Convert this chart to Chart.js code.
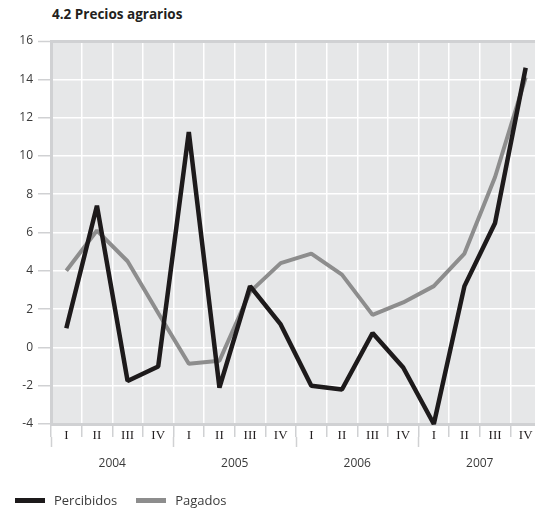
<!DOCTYPE html>
<html lang="es">
<head>
<meta charset="utf-8">
<title>4.2 Precios agrarios</title>
<script src="https://cdn.jsdelivr.net/npm/chart.js@4.4.1/dist/chart.umd.min.js"></script>
<style>
  html, body { margin: 0; padding: 0; background: #fff; overflow: hidden; width: 535px; height: 509px; }
  #wrap { position: absolute; left: 0; top: 0; width: 541px; height: 509px; }
  #title { position: absolute; left: 52px; top: 5px; font: bold 13.5px "Open Sans", sans-serif; color: #231f20; white-space: nowrap; }
  #legend { position: absolute; left: 15px; top: 491px; font: 13px "Open Sans", sans-serif; color: #3a3a3a; white-space: nowrap; }
  #legend .item { display: inline-block; margin-right: 19px; }
  #legend .mark { display: inline-block; width: 30px; height: 5px; vertical-align: middle; margin-right: 9px; position: relative; top: -1px; }
</style>
</head>
<body>
<div id="title">4.2 Precios agrarios</div>
<div id="wrap"><canvas id="chart" width="541" height="509"></canvas></div>
<div id="legend"></div>
<script>
// Quarterly year-on-year change (%), 2004-2007
const quarters = ['I', 'II', 'III', 'IV', 'I', 'II', 'III', 'IV', 'I', 'II', 'III', 'IV', 'I', 'II', 'III', 'IV'];
const years = ['2004', '2005', '2006', '2007'];
const percibidos = [1.0, 7.4, -1.75, -1.0, 11.25, -2.1, 3.2, 1.2, -2.0, -2.2, 0.75, -1.05, -4.0, 3.2, 6.5, 14.6];
const pagados = [4.0, 6.1, 4.5, 1.8, -0.85, -0.7, 2.9, 4.4, 4.9, 3.8, 1.7, 2.35, 3.2, 4.9, 8.9, 14.1];
const yMin = -4, yMax = 16, yStep = 2;

const seriesStyle = [
  { label: 'Percibidos', data: percibidos, color: '#1d1a1b', width: 4.5 },
  { label: 'Pagados', data: pagados, color: '#8d8d8d', width: 4 }
];

const GRID_GREY = '#d0d1d3';

// Light grey plot panel behind the gridlines
const plotBackground = {
  id: 'plotBackground',
  beforeDraw(chart) {
    const { ctx, chartArea: a } = chart;
    ctx.save();
    ctx.fillStyle = '#e6e7e8';
    ctx.fillRect(a.left, a.top, a.right - a.left, a.bottom - a.top);
    ctx.restore();
  }
};

new Chart(document.getElementById('chart'), {
  type: 'line',
  data: {
    labels: quarters,
    datasets: seriesStyle.map(s => ({
      label: s.label,
      data: s.data,
      borderColor: s.color,
      backgroundColor: s.color,
      borderWidth: s.width,
      pointRadius: 0,
      pointHoverRadius: 0,
      tension: 0,
      borderJoinStyle: 'bevel',
      clip: false
    }))
  },
  options: {
    responsive: false,
    animation: false,
    events: [],
    layout: { padding: { top: 41, right: 0, bottom: 0, left: 0 } },
    plugins: { legend: { display: false }, title: { display: false }, tooltip: { enabled: false } },
    scales: {
      x: {
        type: 'category',
        offset: true,
        position: 'bottom',
        grid: {
          offset: true,
          color: '#ffffff',
          lineWidth: 1.5,
          tickLength: 13,
          tickColor: GRID_GREY,
          tickWidth: 1.5
        },
        border: { color: GRID_GREY, width: 3 },
        ticks: {
          autoSkip: false,
          maxRotation: 0,
          // mirrored labels sit between the short quarter tick marks
          mirror: true,
          padding: -19,
          color: '#231f20',
          font: { family: 'Liberation Serif', size: 13 }
        },
        afterFit(scale) { scale.height = 13; }
      },
      x2: {
        type: 'category',
        labels: years,
        offset: true,
        position: 'bottom',
        grid: {
          offset: true,
          drawOnChartArea: false,
          tickLength: 10,
          tickColor: GRID_GREY,
          tickWidth: 1.5
        },
        border: { display: false },
        ticks: {
          autoSkip: false,
          maxRotation: 0,
          padding: 9,
          color: '#3a3a3a',
          font: { family: 'Open Sans', size: 12 }
        },
        afterFit(scale) { scale.height = 72; }
      },
      y: {
        min: yMin,
        max: yMax,
        grid: {
          color: ctx => (ctx.tick && ctx.tick.value === yMax ? GRID_GREY : '#ffffff'),
          lineWidth: ctx => (ctx.tick && ctx.tick.value === yMax ? 3 : 1.5),
          tickLength: 13,
          tickColor: GRID_GREY,
          tickWidth: 1.5
        },
        border: { color: GRID_GREY, width: 3 },
        ticks: {
          stepSize: yStep,
          padding: 5,
          color: '#3a3a3a',
          font: { family: 'Open Sans', size: 12 }
        },
        afterFit(scale) { scale.width = 51; }
      }
    }
  },
  plugins: [plotBackground]
});

// Legend: thick line swatch followed by series name
const legend = document.getElementById('legend');
seriesStyle.forEach(s => {
  const item = document.createElement('span');
  item.className = 'item';
  const mark = document.createElement('span');
  mark.className = 'mark';
  mark.style.background = s.color;
  item.appendChild(mark);
  item.appendChild(document.createTextNode(s.label));
  legend.appendChild(item);
});
</script>
</body>
</html>
